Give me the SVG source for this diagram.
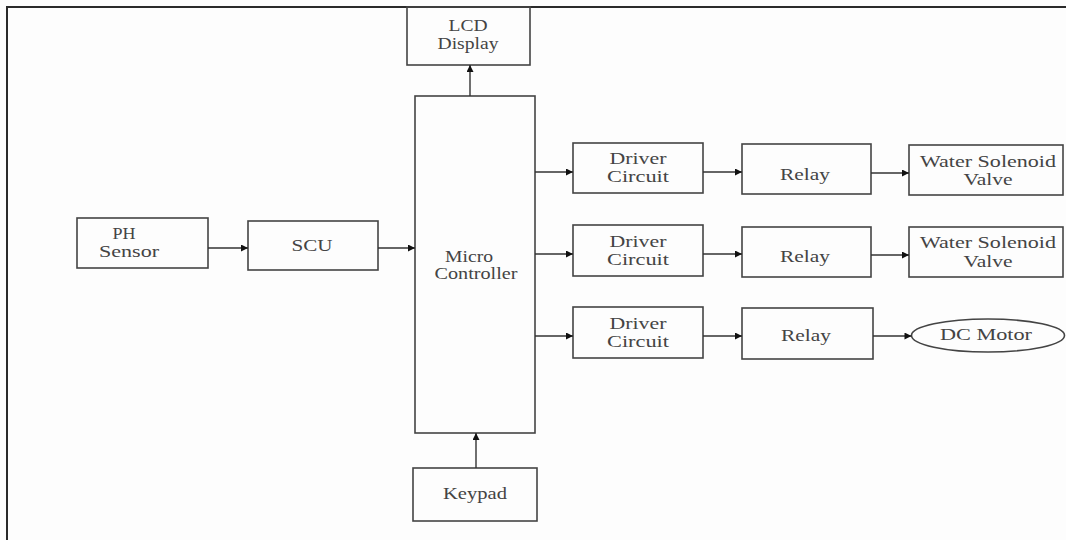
<svg xmlns="http://www.w3.org/2000/svg" width="1066" height="540" viewBox="0 0 1066 540">
<style>
.box{fill:none;stroke:#444;stroke-width:1.6}
.t{font-family:'Liberation Serif','Times New Roman','DejaVu Serif',serif;font-size:17px;fill:#444;text-anchor:middle}
.c{fill:none;stroke:#333;stroke-width:1.4}
.frame{fill:none;stroke:#2a2a2a;stroke-width:2}
</style>
<defs>
<marker id="ah" viewBox="0 0 10 10" refX="10" refY="5" markerWidth="8" markerHeight="7" markerUnits="userSpaceOnUse" orient="auto">
<path d="M0,0 L10,5 L0,10 z" fill="#111"/>
</marker>
</defs>
<rect width="1066" height="540" fill="#fdfdfd"/>
<path class="frame" d="M7,540 L7,7 L1066,7"/>

<g id="lcd"><rect class="box" x="407" y="7" width="123" height="58"/>
<text class="t" x="468" y="31" textLength="39" lengthAdjust="spacingAndGlyphs">LCD</text>
<text class="t" x="468" y="49" textLength="61" lengthAdjust="spacingAndGlyphs">Display</text></g>

<g id="mc"><rect class="box" x="415" y="96" width="120" height="337"/>
<text class="t" x="469" y="262" textLength="48" lengthAdjust="spacingAndGlyphs">Micro</text>
<text class="t" x="476" y="279" textLength="83" lengthAdjust="spacingAndGlyphs">Controller</text></g>

<g id="ph"><rect class="box" x="77" y="218" width="131" height="50"/>
<text class="t" x="124" y="239" textLength="23" lengthAdjust="spacingAndGlyphs">PH</text>
<text class="t" x="129" y="257" textLength="60" lengthAdjust="spacingAndGlyphs">Sensor</text></g>

<g id="scu"><rect class="box" x="248" y="221" width="130" height="49"/>
<text class="t" x="312" y="251" textLength="41" lengthAdjust="spacingAndGlyphs">SCU</text></g>

<g id="keypad"><rect class="box" x="413" y="468" width="124" height="53"/>
<text class="t" x="475" y="499" textLength="64" lengthAdjust="spacingAndGlyphs">Keypad</text></g>

<g id="driver1"><rect class="box" x="573" y="143" width="130" height="50"/>
<text class="t" x="638" y="164" textLength="57" lengthAdjust="spacingAndGlyphs">Driver</text>
<text class="t" x="638" y="182" textLength="62" lengthAdjust="spacingAndGlyphs">Circuit</text></g>

<g id="relay1"><rect class="box" x="742" y="144" width="129" height="50"/>
<text class="t" x="805" y="180" textLength="50" lengthAdjust="spacingAndGlyphs">Relay</text></g>

<g id="valve1"><rect class="box" x="909" y="145" width="154" height="50"/>
<text class="t" x="988" y="167" textLength="136" lengthAdjust="spacingAndGlyphs">Water Solenoid</text>
<text class="t" x="988" y="185" textLength="49" lengthAdjust="spacingAndGlyphs">Valve</text></g>

<g id="driver2"><rect class="box" x="573" y="225" width="130" height="51"/>
<text class="t" x="638" y="247" textLength="57" lengthAdjust="spacingAndGlyphs">Driver</text>
<text class="t" x="638" y="265" textLength="62" lengthAdjust="spacingAndGlyphs">Circuit</text></g>

<g id="relay2"><rect class="box" x="742" y="227" width="129" height="50"/>
<text class="t" x="805" y="262" textLength="50" lengthAdjust="spacingAndGlyphs">Relay</text></g>

<g id="valve2"><rect class="box" x="909" y="227" width="154" height="50"/>
<text class="t" x="988" y="248" textLength="136" lengthAdjust="spacingAndGlyphs">Water Solenoid</text>
<text class="t" x="988" y="267" textLength="49" lengthAdjust="spacingAndGlyphs">Valve</text></g>

<g id="driver3"><rect class="box" x="573" y="307" width="130" height="51"/>
<text class="t" x="638" y="329" textLength="57" lengthAdjust="spacingAndGlyphs">Driver</text>
<text class="t" x="638" y="347" textLength="62" lengthAdjust="spacingAndGlyphs">Circuit</text></g>

<g id="relay3"><rect class="box" x="742" y="308" width="131" height="51"/>
<text class="t" x="806" y="341" textLength="50" lengthAdjust="spacingAndGlyphs">Relay</text></g>

<g id="motor"><ellipse class="box" cx="988" cy="335.5" rx="76.5" ry="16.5"/>
<text class="t" x="986" y="340" textLength="92" lengthAdjust="spacingAndGlyphs">DC Motor</text></g>

<g id="connectors">
<line class="c" x1="470" y1="96" x2="470" y2="65" marker-end="url(#ah)"/>
<line class="c" x1="476" y1="468" x2="476" y2="433" marker-end="url(#ah)"/>
<line class="c" x1="208" y1="248" x2="248" y2="248" marker-end="url(#ah)"/>
<line class="c" x1="378" y1="248" x2="415" y2="248" marker-end="url(#ah)"/>
<line class="c" x1="535" y1="172" x2="573" y2="172" marker-end="url(#ah)"/>
<line class="c" x1="703" y1="172" x2="742" y2="172" marker-end="url(#ah)"/>
<line class="c" x1="871" y1="173" x2="909" y2="173" marker-end="url(#ah)"/>
<line class="c" x1="535" y1="254" x2="573" y2="254" marker-end="url(#ah)"/>
<line class="c" x1="703" y1="254" x2="742" y2="254" marker-end="url(#ah)"/>
<line class="c" x1="871" y1="255" x2="909" y2="255" marker-end="url(#ah)"/>
<line class="c" x1="535" y1="336" x2="573" y2="336" marker-end="url(#ah)"/>
<line class="c" x1="703" y1="336" x2="742" y2="336" marker-end="url(#ah)"/>
<line class="c" x1="873" y1="336" x2="911.5" y2="336" marker-end="url(#ah)"/>
</g>
</svg>
